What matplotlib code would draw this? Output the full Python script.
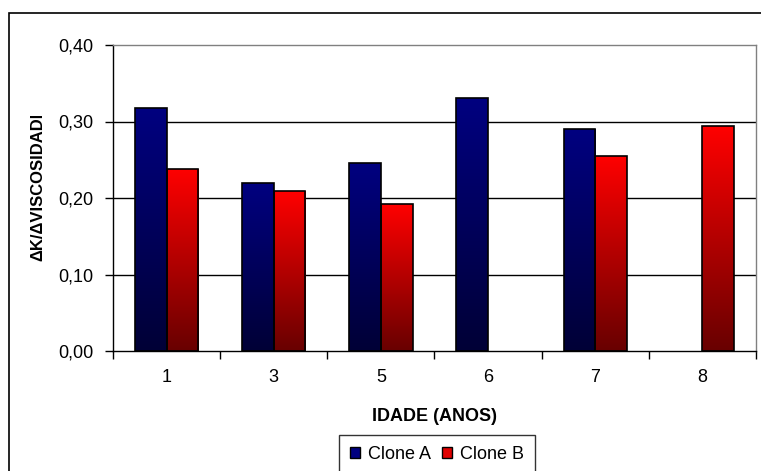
import numpy as np
import matplotlib
matplotlib.use("Agg")
import matplotlib.pyplot as plt
from matplotlib.patches import Rectangle, Patch
from matplotlib.colors import LinearSegmentedColormap
from matplotlib.transforms import Bbox

# dados
idades = ["1", "3", "5", "6", "7", "8"]
clone_a = [0.318, 0.220, 0.246, 0.331, 0.290, None]
clone_b = [0.238, 0.209, 0.192, None, 0.255, 0.294]
yticks = [0.0, 0.1, 0.2, 0.3, 0.4]

plt.rcParams['font.family'] = ['Liberation Sans', 'DejaVu Sans']

W, H = 761, 471
fig = plt.figure(figsize=(W / 100, H / 100), dpi=100)
ax = fig.add_axes([113 / W, 1 - 351 / H, (756 - 113) / W, (351 - 45) / H])

cmap_a = LinearSegmentedColormap.from_list("a", ["#000036", "#000080"])
cmap_b = LinearSegmentedColormap.from_list("b", ["#680000", "#ff0000"])
grad = np.linspace(0, 1, 256).reshape(-1, 1)

bw = 0.295
x = np.arange(len(idades))
for vals, off, cmap in [(clone_a, -bw / 2, cmap_a), (clone_b, bw / 2, cmap_b)]:
    for xi, v in zip(x, vals):
        if v is None:
            continue
        bar = ax.bar(xi + off, v, width=bw, facecolor="none",
                     edgecolor="black", linewidth=1.2, zorder=3)[0]
        im = ax.imshow(grad, cmap=cmap, origin="lower", aspect="auto",
                       extent=[xi + off - bw / 2, xi + off + bw / 2, 0, v],
                       zorder=2)
        im.set_clip_path(bar)

ax.set_xlim(-0.5, len(idades) - 0.5)
ax.set_ylim(0, 0.4)

# grade
for yv in yticks[1:4]:
    ax.axhline(yv, color="black", linewidth=1, zorder=1)

ax.set_yticks(yticks)
ax.set_yticklabels([("%.2f" % t).replace(".", ",") for t in yticks], fontsize=13)
ax.tick_params(axis="y", direction="out", length=6, width=1, pad=8)

ax.set_xticks(np.arange(len(idades) + 1) - 0.5)
ax.set_xticklabels([])
ax.set_xticks(x, minor=True)
ax.set_xticklabels(idades, minor=True, fontsize=13)
ax.tick_params(axis="x", which="major", direction="out", length=6, width=1)
ax.tick_params(axis="x", which="minor", length=0, pad=13)

for s in ["left", "bottom"]:
    ax.spines[s].set_color("black")
for s in ["top", "right"]:
    ax.spines[s].set_color("#808080")
for s in ax.spines.values():
    s.set_linewidth(1)
    s.set_zorder(4)

ax.set_xlabel("IDADE (ANOS)", fontsize=13, fontweight="bold", labelpad=16)

yl = fig.text(38 / W, 1 - 261 / H, "\u0394K/\u0394VISCOSIDADE", rotation=90,
              ha="center", va="bottom", fontsize=12, fontweight="bold")
yl.set_clip_box(Bbox.from_extents(0, 0, W, H - 116))
yl.set_clip_on(True)

# borda externa
fig.patches.append(Rectangle((9 / W, -0.1), 1.2, 1.1 - 13 / H, transform=fig.transFigure,
                             fill=False, edgecolor="black", linewidth=1.2))

handles = [Patch(facecolor="#000080", edgecolor="black", label="Clone A"),
           Patch(facecolor="#e00000", edgecolor="black", label="Clone B")]
leg = fig.legend(handles=handles, loc="upper left", bbox_to_anchor=(339 / W, 1 - 435 / H),
                 ncol=2, fontsize=13, frameon=True, fancybox=False, handlelength=0.55,
                 handleheight=0.55, handletextpad=0.45, columnspacing=0.6, borderpad=0.6,
                 borderaxespad=0)
leg.get_frame().set_edgecolor("black")
leg.get_frame().set_linewidth(1)

fig.savefig("out.png", dpi=100)
